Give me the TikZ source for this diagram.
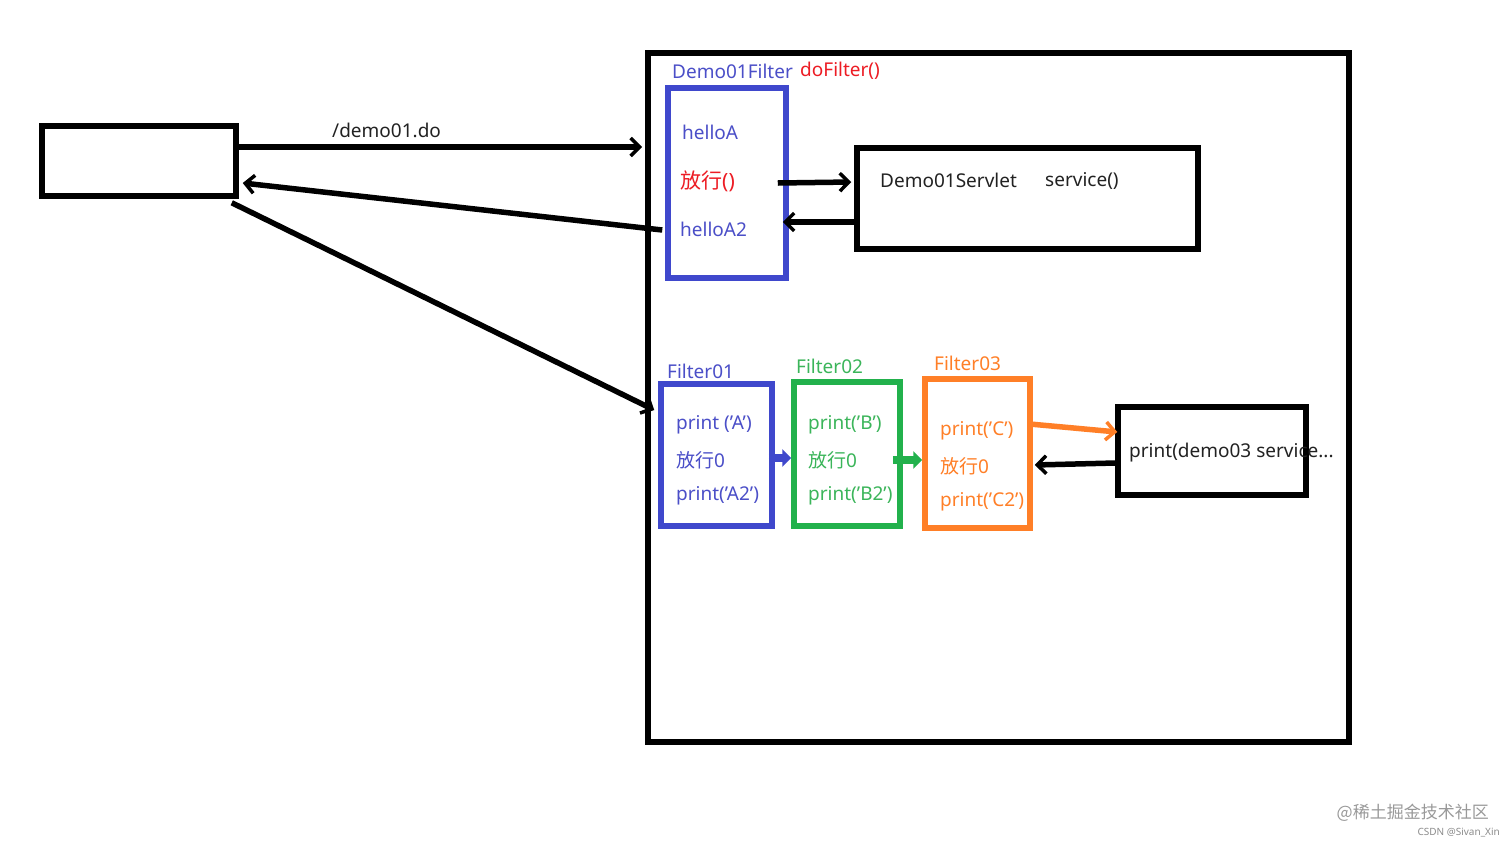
\documentclass[tikz,border=0pt]{standalone}
\usepackage{fontspec}
\setmainfont{Noto Sans}
\newfontfamily\cjk{Noto Sans CJK SC}
\usetikzlibrary{arrows.meta,calc}
\definecolor{pblue}{HTML}{3F48CC}
\definecolor{tblue}{HTML}{4B4FC8}
\definecolor{pgreen}{HTML}{22B14C}
\definecolor{tgreen}{HTML}{3BB55A}
\definecolor{porange}{HTML}{FF7F27}
\definecolor{pred}{HTML}{ED1C24}
\definecolor{ttext}{HTML}{222222}
\tikzset{
  box/.style={draw=black,line width=5.5pt,inner sep=0pt},
  txt/.style={anchor=west,inner sep=0pt,font=\fontsize{19}{21}\selectfont},
  arr/.style={line width=5.5pt,-{Straight Barb[length=9pt,width=18pt,line width=3.5pt]}},
  fat/.style={line width=8pt,-{Triangle[length=9pt,width=17pt]}},
}
\begin{document}
\begin{tikzpicture}[x=1pt,y=-1pt]
\useasboundingbox[fill=white] (0,0) rectangle (1512,847);
% boxes
\node[box,minimum width=194pt,minimum height=70pt] (left) at (139,161) {};
\node[box,line width=6pt,minimum width=701pt,minimum height=689pt] (big) at (998.5,397.5) {};
\node[box,draw=pblue,minimum width=118pt,minimum height=190pt] (df) at (727,183) {};
\node[box,minimum width=341pt,minimum height=101pt] (sv) at (1027.5,198.5) {};
\node[box,draw=pblue,minimum width=111pt,minimum height=142pt] (f1) at (716.5,455) {};
\node[box,draw=pgreen,minimum width=106pt,minimum height=144pt] (f2) at (847,454) {};
\node[box,draw=porange,minimum width=105pt,minimum height=149pt] (f3) at (977.5,453.5) {};
\node[box,minimum width=188pt,minimum height=88pt] (s3) at (1212,451) {};
% labels
\node[txt,text=ttext] (lurl) at (332,130) {/demo01.do};
\node[txt,text=tblue] (ldf) at (672,71) {Demo01Filter};
\node[txt,text=pred] (ldo) at (800,71) {doFilter()};
\node[txt,text=tblue] (ha) at (682,132) {helloA};
\node[txt,text=pred,font=\fontsize{21}{23}\selectfont] (fx) at (680,181) {{\cjk 放行}()};
\node[txt,text=tblue] (ha2) at (680,229) {helloA2};
\node[txt,text=ttext] (svn) at (880,180) {Demo01Servlet};
\node[txt,text=ttext] (svs) at (1045,181) {service()};
\node[txt,text=tblue] (lf1) at (667,371) {Filter01};
\node[txt,text=tblue] (a1) at (676,425) {print (’A’)};
\node[txt,text=tblue] (a2) at (676,460) {{\cjk 放行}0};
\node[txt,text=tblue] (a3) at (676,496) {print(’A2’)};
\node[txt,text=tgreen] (lf2) at (796,366) {Filter02};
\node[txt,text=tgreen] (b1) at (808,425) {print(’B’)};
\node[txt,text=tgreen] (b2) at (808,460) {{\cjk 放行}0};
\node[txt,text=tgreen] (b3) at (808,496) {print(’B2’)};
\node[txt,text=porange] (lf3) at (934,363) {Filter03};
\node[txt,text=porange] (c1) at (940,431) {print(’C’)};
\node[txt,text=porange] (c2) at (940,466) {{\cjk 放行}0};
\node[txt,text=porange] (c3) at (940,502) {print(’C2’)};
\node[txt,text=ttext] (s3t) at (1129,453) {print(demo03 service...};
% connectors
\draw[arr] ([yshift=14pt]left.east) -- ([yshift=250.5pt,xshift=-3pt]big.west);
\draw[arr] ([yshift=-47pt,xshift=-3pt]df.west) -- ([yshift=-22pt,xshift=4pt]left.east);
\draw[arr] ([xshift=-7pt,yshift=-4pt]left.south east) -- ([yshift=45pt,xshift=-4pt]f1.west);
\draw[arr] ([xshift=-11pt]df.east) -- ([yshift=16.5pt,xshift=-3pt]sv.west);
\draw[arr] ([yshift=-23.5pt]sv.west) -- ([yshift=-39pt,xshift=-6pt]df.east);
\draw[fat,draw=pblue,fill=pblue] ([yshift=-3pt,xshift=-6pt]f1.east) -- ([yshift=-4pt]f2.west);
\draw[fat,draw=pgreen,fill=pgreen] ([yshift=-6pt,xshift=-10pt]f2.east) -- ([yshift=-6.5pt]f3.west);
\draw[arr,draw=porange] ([yshift=29.5pt,xshift=-3pt]f3.east) -- ([yshift=19pt,xshift=2pt]s3.west);
\draw[arr] ([yshift=-12pt]s3.west) -- ([yshift=-11.5pt,xshift=2pt]f3.east);
% watermark
\node[anchor=east,inner sep=0pt,text=black!40,font=\cjk\fontsize{17}{19}\selectfont] (wm1) at (1489,813) {@稀土掘金技术社区};
\node[anchor=east,inner sep=0pt,text=black!45,font=\fontsize{10}{12}\selectfont] (wm2) at (1500,833) {CSDN @Sivan\_Xin};
\end{tikzpicture}
\end{document}
